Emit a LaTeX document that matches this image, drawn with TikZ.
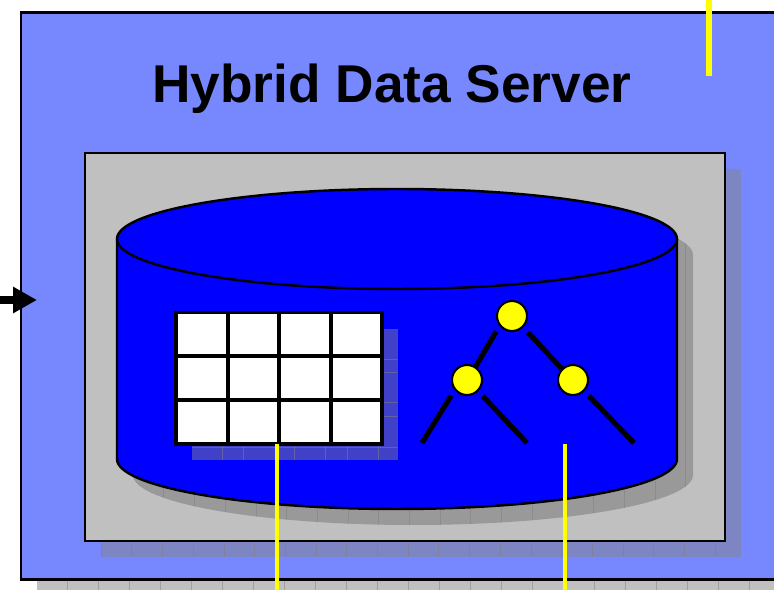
\documentclass[tikz,border=0pt]{standalone}
\usepackage{fontspec}
\setmainfont{Liberation Sans}
\usetikzlibrary{arrows.meta}

\definecolor{serverblue}{HTML}{7788FF}
\definecolor{panelgray}{HTML}{C0C0C0}
\definecolor{linkyellow}{HTML}{FFFF00}
\definecolor{panelshadow}{HTML}{7D85C2}
\definecolor{drumshadow}{HTML}{999999}
\definecolor{tableshadow}{HTML}{4040C8}

\tikzset{
    tileline/.style={draw=gray, opacity=0.5, line width=0.3pt},
    treenode/.style={circle, draw=black, fill=linkyellow, line width=1.2pt, minimum size=0.6cm, inner sep=0pt, outer sep=0pt},
    treeline/.style={line width=2.9pt, shorten <=0.15cm},
    yellowlink/.style={draw=linkyellow, line width=1.75pt},
    tablegrid/.style={line width=1.75pt}
}

\begin{document}
\begin{tikzpicture}[x=0.02cm, y=-0.02cm]
        \useasboundingbox (0,0) rectangle (774,590);
        \clip (0,0) rectangle (774,590);

        % Skygge under serveren
        \fill[panelgray] (37,580) rectangle (800,620);
        \foreach \tx in {67,98,...,790} {
            \draw[tileline] (\tx,580) -- (\tx,620);
        }

        % Serverboks
        \draw[fill=serverblue, draw=black, line width=1.2pt] (21,12.5) rectangle (800,579.5);
        \node[font=\bfseries\fontsize{30.3}{36}\selectfont] (servertitle) at (392,89) {Hybrid Data Server};

        % Skygge under panelet
        \fill[panelshadow] (101,169) rectangle (741,557);
        \begin{scope}
            \clip (101,169) rectangle (741,557);
            \begin{scope}[shift={(101,169)}]
                \draw[tileline, step=30.7] (0,0) grid (640,388);
            \end{scope}
        \end{scope}

        % Panel
        \draw[fill=panelgray, draw=black, line width=1.2pt] (85,153) rectangle (725,541);

        % Skygge under sylinderen
        \begin{scope}
            \clip (133,255) -- (133,475) arc[start angle=180, end angle=0, x radius=280, y radius=50] -- (693,255) arc[start angle=0, end angle=-180, x radius=280, y radius=50] -- cycle;
            \fill[drumshadow] (120,200) rectangle (700,530);
            \begin{scope}[shift={(133,205)}]
                \draw[tileline, step=30.7] (0,0) grid (560,330);
            \end{scope}
        \end{scope}

        % Sylinder
        \draw[fill=blue, draw=black, line width=1.4pt] (117,239) -- (117,459) arc[start angle=180, end angle=0, x radius=280, y radius=50] -- (677,239);
        \draw[fill=blue, draw=black, line width=1.4pt] (397,239) ellipse [x radius=280, y radius=50];

        % Skygge under tabellen
        \fill[tableshadow] (192,329) rectangle (398,460);
        \foreach \tx in {222,243,294,325,347,378} {
            \draw[tileline] (\tx,444) -- (\tx,460);
        }
        \foreach \ty in {359,372,402,416} {
            \draw[tileline] (382,\ty) -- (398,\ty);
        }
        \draw[tileline] (192,447) -- (398,447);

        % Tabell
        \draw[fill=white, draw=black, tablegrid] (176,312.5) rectangle (382,444);
        \foreach \tx in {228,279,331} {
            \draw[tablegrid] (\tx,312.5) -- (\tx,444);
        }
        \foreach \ty in {356,400} {
            \draw[tablegrid] (176,\ty) -- (382,\ty);
        }

        % Tre
        \node[treenode] (treeroot) at (512,316) {};
        \node[treenode] (treeleft) at (467,380) {};
        \node[treenode] (treeright) at (573,380) {};
        \coordinate (leafa) at (422,443);
        \coordinate (leafb) at (527,443);
        \coordinate (leafc) at (634,443);
        \draw[treeline, shorten >=0pt] (treeroot.217) -- (treeleft.57);
        \draw[treeline] (treeroot.-45) -- (treeright.135);
        \draw[treeline] (treeleft.218) -- (leafa);
        \draw[treeline] (treeleft.-45) -- (leafb);
        \draw[treeline] (treeright.-45) -- (leafc);

        % Gule koblinger
        \coordinate (tablefoot) at (277,444);
        \coordinate (tablelink) at (277,600);
        \coordinate (treefoot) at (565,444);
        \coordinate (treelink) at (565,600);
        \coordinate (servertop) at (709,-5);
        \coordinate (serverlink) at (709,76);
        \draw[yellowlink] (tablefoot) -- (tablelink);
        \draw[yellowlink] (treefoot) -- (treelink);
        \draw[yellowlink, line width=3.4pt] (servertop) -- (serverlink);

        % Inngangspil
        \coordinate (arrowstart) at (-5,300);
        \coordinate (arrowtip) at (37,300);
        \draw[-{Triangle[length=0.48cm, width=0.5cm]}, line width=4.4pt] (arrowstart) -- (arrowtip);
    \end{tikzpicture}
\end{document}
